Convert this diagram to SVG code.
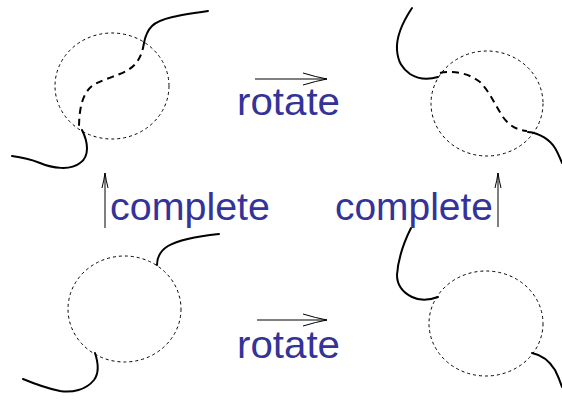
<svg xmlns="http://www.w3.org/2000/svg" width="562" height="407" viewBox="0 0 562 407">
<style>
.circ{fill:none;stroke:#000;stroke-width:1;stroke-dasharray:3 3}
.str{fill:none;stroke:#000;stroke-width:2;stroke-linecap:round}
.dsh{fill:none;stroke:#000;stroke-width:2;stroke-dasharray:7 5}
.arr{fill:none;stroke:#000;stroke-width:1}
.lbl{font-family:"Liberation Sans",Arial,sans-serif;font-size:39px;fill:#333399}
</style>
<rect width="562" height="407" fill="#fff"/>
<g id="top-left">
<ellipse class="circ" cx="112" cy="86" rx="57" ry="53"/>
<path class="str" d="M208,11 C180,15 160,18 152,26 C146,32 145,38 144,43"/>
<path class="dsh" d="M144,43 C142,55 138,64 128,70 C118,76 100,80 92,86 C82,94 79,110 79,128"/>
<path class="str" d="M82,130 C88,142 90,156 80,163 C70,171 52,168 40,163 C30,159 20,157 12,156"/>
</g>
<g id="top-right">
<ellipse class="circ" cx="487" cy="103.5" rx="56" ry="52.5"/>
<path class="str" d="M412,8 C404,20 396,35 397,50 C398,62 402,68 410,74 C418,79 428,80 438,77"/>
<path class="dsh" d="M440,73 C455,70 470,74 480,82 C490,92 495,105 503,117 C510,127 518,130 527,131"/>
<path class="str" d="M528,132 C540,133 550,140 555,148 C558,153 560,158 562,163"/>
</g>
<g id="bottom-left">
<ellipse class="circ" cx="124.5" cy="309" rx="56.5" ry="53"/>
<path class="str" d="M219,234 C200,236 180,239 168,246 C160,251 157,258 157,265"/>
<path class="str" d="M95,353 C98,362 100,372 94,380 C86,390 72,393 60,391 C45,388 35,384 23,379"/>
</g>
<g id="bottom-right">
<ellipse class="circ" cx="486" cy="323.5" rx="57" ry="52.5"/>
<path class="str" d="M411,228 C404,242 398,260 397,275 C397,285 402,292 412,297 C420,301 430,300 438,297"/>
<path class="str" d="M532,353 C542,355 550,362 555,370 C558,376 560,381 562,387"/>
</g>
<g id="connectors">
<path class="arr" d="M255,79 H327 M303,73 Q316,77 327,79 Q316,81 303,85"/>
<path class="arr" d="M257,320 H327 M303,314 Q316,318 327,320 Q316,322 303,326"/>
<path class="arr" d="M105,228 V173 M102,188 Q104,180 105,173 Q106,180 108,188"/>
<path class="arr" d="M498,227 V173 M495,188 Q497,180 498,173 Q499,180 501,188"/>
<text class="lbl" x="237" y="115" textLength="103" lengthAdjust="spacingAndGlyphs">rotate</text>
<text class="lbl" x="237" y="358" textLength="103" lengthAdjust="spacingAndGlyphs">rotate</text>
<text class="lbl" x="110" y="220" textLength="160" lengthAdjust="spacingAndGlyphs">complete</text>
<text class="lbl" x="335" y="220" textLength="158" lengthAdjust="spacingAndGlyphs">complete</text>
</g>
</svg>
